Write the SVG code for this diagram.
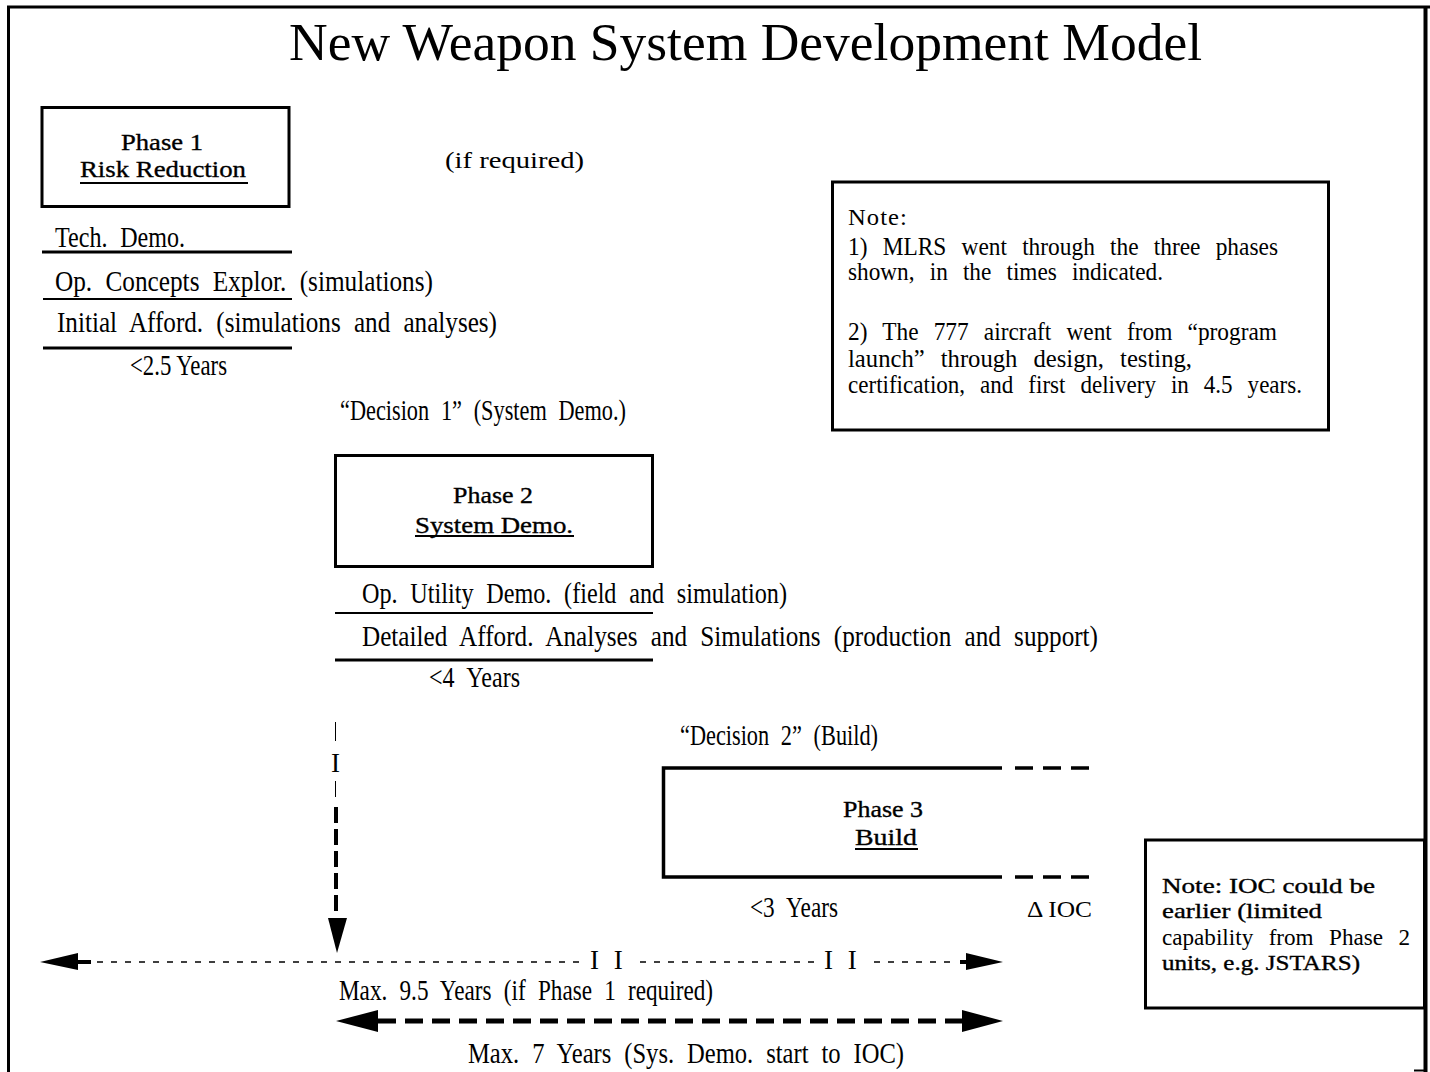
<svg xmlns="http://www.w3.org/2000/svg" width="1430" height="1072" viewBox="0 0 1430 1072">
  <style>
    .t { font-family: "Liberation Serif", "Times New Roman", serif; fill: #000; }
    .body { font-size: 29px; }
    .pal { font-size: 24px; }
    .semi { stroke: #000; stroke-width: 0.35px; }
    .box { fill: none; stroke: #000; stroke-width: 3; }
    .rule { stroke: #000; stroke-width: 3; }
    .rule-thin { stroke: #000; stroke-width: 2; }
    .ul { stroke: #000; stroke-width: 2; }
    .head { fill: #000; stroke: none; }
    .dots { stroke: #000; stroke-width: 1.5; stroke-dasharray: 6 8; }
  </style>

  <rect x="0" y="0" width="1430" height="1072" fill="#fff"/>

  <!-- outer frame -->
  <g id="frame" stroke="#000" fill="none">
    <line x1="7" y1="7" x2="1430" y2="7" stroke-width="3"/>
    <line x1="8.5" y1="6" x2="8.5" y2="1072" stroke-width="3"/>
    <line x1="1425.5" y1="6" x2="1425.5" y2="1072" stroke-width="4"/>
    <line x1="1414" y1="1070.5" x2="1426" y2="1070.5" stroke-width="2"/>
  </g>

  <g id="title">
    <text class="t" x="289" y="60" font-size="53" textLength="913" lengthAdjust="spacingAndGlyphs">New Weapon System Development Model</text>
  </g>

  <!-- Phase 1 -->
  <g id="phase1">
    <rect class="box" x="42" y="107.5" width="247" height="99"/>
    <text class="t pal semi" x="121" y="150" textLength="82" lengthAdjust="spacingAndGlyphs">Phase 1</text>
    <text class="t pal semi" x="80" y="177" textLength="166" lengthAdjust="spacingAndGlyphs">Risk Reduction</text>
    <line class="ul" x1="80" y1="183" x2="248" y2="183"/>
  </g>

  <g id="if-required">
    <text class="t pal" x="445" y="168" textLength="139" lengthAdjust="spacingAndGlyphs">(if required)</text>
  </g>

  <g id="phase1-activities">
    <text class="t body" x="55" y="247" word-spacing="8" textLength="130" lengthAdjust="spacingAndGlyphs">Tech. Demo.</text>
    <line class="rule" x1="42" y1="252" x2="292" y2="252"/>
    <text class="t body" x="55" y="291" word-spacing="8" textLength="378" lengthAdjust="spacingAndGlyphs">Op. Concepts Explor. (simulations)</text>
    <line class="rule-thin" x1="43" y1="299" x2="292" y2="299"/>
    <text class="t body" x="57" y="332" word-spacing="8" textLength="440" lengthAdjust="spacingAndGlyphs">Initial Afford. (simulations and analyses)</text>
    <line class="rule" x1="43" y1="348" x2="292" y2="348"/>
    <text class="t body" x="130" y="375" textLength="97" lengthAdjust="spacingAndGlyphs">&lt;2.5 Years</text>
  </g>

  <g id="decision1">
    <text class="t body" x="340" y="420" word-spacing="8" textLength="286" lengthAdjust="spacingAndGlyphs">“Decision 1” (System Demo.)</text>
  </g>

  <!-- Phase 2 -->
  <g id="phase2">
    <rect class="box" x="335.5" y="455.5" width="317" height="111"/>
    <text class="t pal semi" x="453" y="503" textLength="80" lengthAdjust="spacingAndGlyphs">Phase 2</text>
    <text class="t pal semi" x="415" y="533" textLength="158" lengthAdjust="spacingAndGlyphs">System Demo.</text>
    <line class="ul" x1="415" y1="536" x2="574" y2="536"/>
  </g>

  <g id="phase2-activities">
    <text class="t body" x="362" y="603" word-spacing="8" textLength="425" lengthAdjust="spacingAndGlyphs">Op. Utility Demo. (field and simulation)</text>
    <line class="rule-thin" x1="335" y1="613" x2="653" y2="613"/>
    <text class="t body" x="362" y="646" word-spacing="8" textLength="736" lengthAdjust="spacingAndGlyphs">Detailed Afford. Analyses and Simulations (production and support)</text>
    <line class="rule" x1="335" y1="660" x2="653" y2="660"/>
    <text class="t body" x="429" y="687" word-spacing="8" textLength="91" lengthAdjust="spacingAndGlyphs">&lt;4 Years</text>
  </g>

  <g id="decision2">
    <text class="t body" x="680" y="745" word-spacing="8" textLength="198" lengthAdjust="spacingAndGlyphs">“Decision 2” (Build)</text>
  </g>

  <!-- Phase 3: open on the right, top and bottom run on as dashes -->
  <g id="phase3" stroke="#000" stroke-width="3.5" fill="none">
    <polyline points="1002,768 663.5,768 663.5,877 1002,877"/>
    <line x1="1015" y1="768" x2="1092" y2="768" stroke-dasharray="18 10"/>
    <line x1="1015" y1="877" x2="1092" y2="877" stroke-dasharray="18 10"/>
    <text class="t pal semi" x="843" y="817" textLength="80" lengthAdjust="spacingAndGlyphs">Phase 3</text>
    <text class="t pal semi" x="855" y="845" textLength="62" lengthAdjust="spacingAndGlyphs">Build</text>
    <line x1="855" y1="849" x2="918" y2="849" stroke-width="2"/>
    <text class="t body" x="750" y="917" stroke="none" word-spacing="8" textLength="88" lengthAdjust="spacingAndGlyphs">&lt;3 Years</text>
    <text class="t pal" x="1027" y="917" stroke="none" textLength="65" lengthAdjust="spacingAndGlyphs">Δ IOC</text>
  </g>

  <!-- Note 1 -->
  <g id="note1">
    <rect class="box" x="832.5" y="182" width="496" height="248"/>
    <text class="t" x="848" y="225" font-size="23" letter-spacing="1" textLength="60" lengthAdjust="spacingAndGlyphs">Note:</text>
    <text class="t" x="848" y="255" font-size="25" word-spacing="10" textLength="430" lengthAdjust="spacingAndGlyphs">1) MLRS went through the three phases</text>
    <text class="t" x="848" y="280" font-size="25" word-spacing="10" textLength="315" lengthAdjust="spacingAndGlyphs">shown, in the times indicated.</text>
    <text class="t" x="848" y="340" font-size="25" word-spacing="10" textLength="429" lengthAdjust="spacingAndGlyphs">2) The 777 aircraft went from “program</text>
    <text class="t" x="848" y="367" font-size="25" word-spacing="10" textLength="344" lengthAdjust="spacingAndGlyphs">launch” through design, testing,</text>
    <text class="t" x="848" y="393" font-size="25" word-spacing="10" textLength="454" lengthAdjust="spacingAndGlyphs">certification, and first delivery in 4.5 years.</text>
  </g>

  <!-- Note 2 -->
  <g id="note2">
    <rect class="box" x="1145.5" y="840" width="279" height="168"/>
    <text class="t semi" x="1162" y="893" font-size="21" textLength="213" lengthAdjust="spacingAndGlyphs">Note:  IOC could be</text>
    <text class="t semi" x="1162" y="918" font-size="21" textLength="160" lengthAdjust="spacingAndGlyphs">earlier (limited</text>
    <text class="t" x="1162" y="945" font-size="24" word-spacing="10" textLength="248" lengthAdjust="spacingAndGlyphs">capability from Phase 2</text>
    <text class="t semi" x="1162" y="970" font-size="21" textLength="198" lengthAdjust="spacingAndGlyphs">units, e.g. JSTARS)</text>
  </g>

  <!-- connectors -->
  <g id="connectors">
    <!-- vertical drop from Phase 2 to the time line -->
    <g id="drop-arrow">
      <line x1="335.5" y1="722" x2="335.5" y2="741" stroke="#000" stroke-width="1"/>
      <text class="t" x="331" y="772" font-size="27">I</text>
      <line x1="335.5" y1="781" x2="335.5" y2="797" stroke="#000" stroke-width="1"/>
      <line x1="336" y1="807" x2="336" y2="912" stroke="#000" stroke-width="4" stroke-dasharray="16 6"/>
      <polygon class="head" points="328,918 347,918 337,953"/>
    </g>

    <!-- Max. 9.5 years time line, broken by two pairs of marks -->
    <g id="timeline-95">
      <polygon class="head" points="40,962 78,953 78,970"/>
      <line x1="76" y1="962" x2="91" y2="962" stroke="#000" stroke-width="4"/>
      <line class="dots" x1="97" y1="962" x2="584" y2="962"/>
      <line class="dots" x1="640" y1="962" x2="818" y2="962"/>
      <line class="dots" x1="874" y1="962" x2="958" y2="962"/>
      <line x1="960" y1="962" x2="968" y2="962" stroke="#000" stroke-width="4"/>
      <polygon class="head" points="1003,962 966,953 966,970"/>
      <text class="t" x="590" y="969" font-size="27" word-spacing="8">I I</text>
      <text class="t" x="824" y="969" font-size="27" word-spacing="8">I I</text>
      <text class="t body" x="339" y="1000" word-spacing="8" textLength="374" lengthAdjust="spacingAndGlyphs">Max. 9.5 Years (if Phase 1 required)</text>
    </g>

    <!-- Max. 7 years time line -->
    <g id="timeline-7">
      <polygon class="head" points="336,1021 378,1010 378,1032"/>
      <line x1="378" y1="1021" x2="962" y2="1021" stroke="#000" stroke-width="5" stroke-dasharray="18 9"/>
      <polygon class="head" points="1003,1021 962,1010 962,1032"/>
      <text class="t body" x="468" y="1063" word-spacing="8" textLength="436" lengthAdjust="spacingAndGlyphs">Max. 7 Years (Sys. Demo. start to IOC)</text>
    </g>
  </g>
</svg>
